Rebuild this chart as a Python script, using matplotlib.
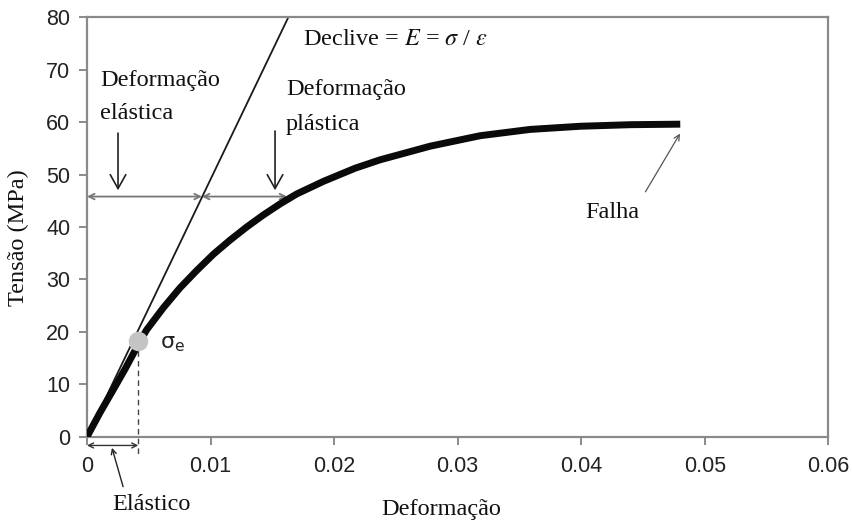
import matplotlib
matplotlib.use("Agg")
import matplotlib.pyplot as plt

# ---- data ----
strain = [0.0, 0.00105, 0.00213, 0.00310, 0.00415, 0.00483, 0.00618, 0.00753,
          0.00888, 0.01023, 0.01158, 0.01293, 0.01428, 0.01563, 0.01698,
          0.01914, 0.02170, 0.02372, 0.02777, 0.03182, 0.03587, 0.03992,
          0.04397, 0.04802]
stress = [0.0, 4.6, 9.0, 13.0, 17.6, 20.4, 24.6, 28.4,
          31.7, 34.8, 37.5, 40.0, 42.3, 44.4, 46.3,
          48.7, 51.2, 52.8, 55.4, 57.4, 58.6, 59.2,
          59.5, 59.6]

slope_x = [0.0, 0.0163]
slope_y = [0.0, 80.0]

yield_x, yield_y = 0.00415, 18.3
hline_y = 45.8
hline_x = [0.0, 0.0093, 0.0162]

xticks = [0, 0.01, 0.02, 0.03, 0.04, 0.05, 0.06]
xticklabels = ["0", "0.01", "0.02", "0.03", "0.04", "0.05", "0.06"]
yticks = [0, 10, 20, 30, 40, 50, 60, 70, 80]

serif = "Liberation Serif"
sans = "Liberation Sans"
plt.rcParams["mathtext.fontset"] = "stix"

fig = plt.figure(figsize=(8.53, 5.20), dpi=100)
ax = fig.add_axes([0.102, 0.160, 0.869, 0.807])

ax.set_xlim(0, 0.06)
ax.set_ylim(0, 80)

# slope line
ax.plot(slope_x, slope_y, color="#1a1a1a", lw=1.3, solid_capstyle="butt", zorder=2)
# stress-strain curve
ax.plot(strain, stress, color="#0a0a0a", lw=5, solid_capstyle="butt",
        solid_joinstyle="round", zorder=3)
# yield point
ax.plot([yield_x], [yield_y], "o", ms=13, color="#c4c4c4", zorder=4)

# dashed vertical from yield point
ax.plot([yield_x, yield_x], [yield_y, -3.2], ls=(0, (4, 3)), color="#444444",
        lw=1.0, clip_on=False, zorder=2)

# horizontal double arrows
arrow_kw = dict(arrowstyle="<->", color="#777777", lw=1.3,
                shrinkA=0, shrinkB=0, mutation_scale=10)
ax.annotate("", xy=(hline_x[0], hline_y), xytext=(hline_x[1], hline_y),
            arrowprops=arrow_kw, zorder=2)
ax.annotate("", xy=(hline_x[1], hline_y), xytext=(hline_x[2], hline_y),
            arrowprops=arrow_kw, zorder=2)

# elastic double arrow below axis
ax.annotate("", xy=(0.0, -1.65), xytext=(yield_x, -1.65), xycoords="data",
            arrowprops=dict(arrowstyle="<->", color="#333333", lw=1.0,
                            shrinkA=0, shrinkB=0, mutation_scale=9),
            annotation_clip=False)

# down arrows
down_kw = dict(arrowstyle="->,head_length=0.5,head_width=0.28", color="#222222",
               lw=1.2, shrinkA=0, shrinkB=0, mutation_scale=20)
ax.annotate("", xy=(0.00251, 47.0), xytext=(0.00251, 57.9), arrowprops=down_kw)
ax.annotate("", xy=(0.01522, 47.0), xytext=(0.01522, 58.3), arrowprops=down_kw)

# failure arrow
ax.annotate("", xy=(0.0480, 57.8), xytext=(0.0452, 46.7),
            arrowprops=dict(arrowstyle="->", color="#555555", lw=0.9,
                            shrinkA=0, shrinkB=0, mutation_scale=10))

# elastic arrow
ax.annotate("", xy=(0.00202, -2.1), xytext=(0.00292, -9.5),
            arrowprops=dict(arrowstyle="->", color="#222222", lw=1.0,
                            shrinkA=0, shrinkB=0, mutation_scale=9),
            annotation_clip=False)

# texts
tkw = dict(family=serif, fontsize=17.5, color="#111111", va="baseline", ha="left")
ax.text(0.00105, 66.8, "Deformação", **tkw)
ax.text(0.00105, 60.6, "elástica", **tkw)
ax.text(0.0161, 65.1, "Deformação", **tkw)
ax.text(0.0161, 58.5, "plástica", **tkw)
ax.text(0.0175, 74.7, r"Declive = $E$ = $\sigma$ / $\varepsilon$", **tkw)
ax.text(0.0403, 41.7, "Falha", **tkw)
ax.text(0.00202, -13.9, "Elástico", clip_on=False, **tkw)
ax.text(0.0059, 16.8, r"$\mathregular{\sigma_e}$", va="baseline", ha="left",
        fontsize=16, color="#222222", family="DejaVu Sans",
        math_fontfamily="dejavusans")

# spines & ticks
for s in ["left", "bottom", "top", "right"]:
    ax.spines[s].set_color("#8a8a8a")
    ax.spines[s].set_linewidth(1.6)
ax.set_xticks(xticks)
ax.set_xticklabels(xticklabels)
ax.set_yticks(yticks)
ax.tick_params(direction="out", length=6, width=1.4, color="#8a8a8a",
               labelsize=15.5, labelcolor="#222222")
ax.tick_params(axis="x", pad=8)
ax.tick_params(axis="y", pad=6)
for lab in ax.get_xticklabels() + ax.get_yticklabels():
    lab.set_family(sans)

ax.set_xlabel("Deformação", family=serif, fontsize=17.5, color="#111111",
              va="baseline", ha="center")
ax.xaxis.set_label_coords(0.478, -0.186)
ax.set_ylabel("Tensão (MPa)", family=serif, fontsize=17.5, color="#111111",
              va="center", ha="center")
ax.yaxis.set_label_coords(-0.092, 0.475)

fig.savefig("out.png", dpi=100)
